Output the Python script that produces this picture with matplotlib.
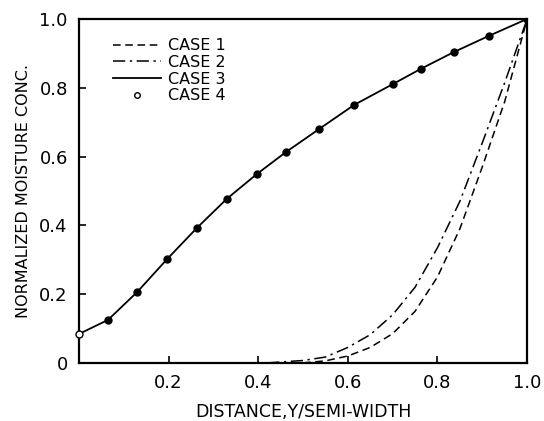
import matplotlib
matplotlib.use("Agg")
import matplotlib.pyplot as plt
from matplotlib.lines import Line2D

# Case 1 (dashed)
case1_x = [0.50, 0.55, 0.60, 0.65, 0.70, 0.75, 0.80, 0.85, 0.90, 0.95, 1.00]
case1_y = [0.000, 0.006, 0.020, 0.045, 0.085, 0.150, 0.250, 0.390, 0.570, 0.760, 1.000]

# Case 2 (dash-dot)
case2_x = [0.42, 0.50, 0.55, 0.60, 0.65, 0.70, 0.75, 0.80, 0.85, 0.90, 0.95, 1.00]
case2_y = [0.000, 0.007, 0.017, 0.045, 0.082, 0.140, 0.220, 0.335, 0.470, 0.640, 0.815, 1.000]

# Case 3 (solid) and Case 4 (points)
case3_x = [0.0, 0.065, 0.13, 0.197, 0.263, 0.33, 0.397, 0.462, 0.536, 0.614, 0.701, 0.763, 0.837, 0.915, 1.0]
case3_y = [0.084, 0.125, 0.206, 0.302, 0.392, 0.477, 0.549, 0.613, 0.680, 0.750, 0.811, 0.855, 0.904, 0.951, 1.0]
case4_x = case3_x
case4_y = case3_y

xticks = [0.2, 0.4, 0.6, 0.8, 1.0]
xticklabels = ["0.2", "0.4", "0.6", "0.8", "1.0"]
yticks = [0, 0.2, 0.4, 0.6, 0.8, 1.0]
yticklabels = ["0", "0.2", "0.4", "0.6", "0.8", "1.0"]

fig = plt.figure(figsize=(5.44, 4.21), dpi=100)
ax = fig.add_axes([0.145, 0.138, 0.824, 0.817])

ax.plot(case1_x, case1_y, color="black", lw=1.1, linestyle=(0, (5, 3)))
ax.plot(case2_x, case2_y, color="black", lw=1.1, linestyle=(0, (8, 3, 1.5, 3)))
ax.plot(case3_x, case3_y, color="black", lw=1.3)
ax.plot(case4_x[1:], case4_y[1:], linestyle="none", marker="o", ms=5,
        mfc="black", mec="black")
ax.plot(case4_x[:1], case4_y[:1], linestyle="none", marker="o", ms=5,
        mfc="white", mec="black", mew=1.0, clip_on=False, zorder=5)

ax.set_xlim(0, 1.0)
ax.set_ylim(0, 1.0)
ax.set_xticks(xticks)
ax.set_xticklabels(xticklabels)
ax.set_yticks(yticks)
ax.set_yticklabels(yticklabels)
ax.tick_params(direction="in", length=5, width=1.2, labelsize=13, pad=8)
for s in ax.spines.values():
    s.set_linewidth(1.6)

ax.set_xlabel("DISTANCE,Y/SEMI-WIDTH", fontsize=12.5, labelpad=8)
ax.set_ylabel("NORMALIZED MOISTURE CONC.", fontsize=11.5, labelpad=6)

handles = [
    Line2D([], [], color="black", lw=1.1, linestyle=(0, (5, 3))),
    Line2D([], [], color="black", lw=1.1, linestyle=(0, (8, 3, 1.5, 3))),
    Line2D([], [], color="black", lw=1.3),
    Line2D([], [], color="black", linestyle="none", marker="o", ms=4, mfc="white", mew=1.0),
]
leg = ax.legend(handles, ["CASE 1", "CASE 2", "CASE 3", "CASE 4"], loc="upper left",
                bbox_to_anchor=(0.045, 0.985), frameon=False, fontsize=11.5,
                handlelength=3.0, handletextpad=0.4, labelspacing=0.1)

fig.savefig("out.png", dpi=100)
